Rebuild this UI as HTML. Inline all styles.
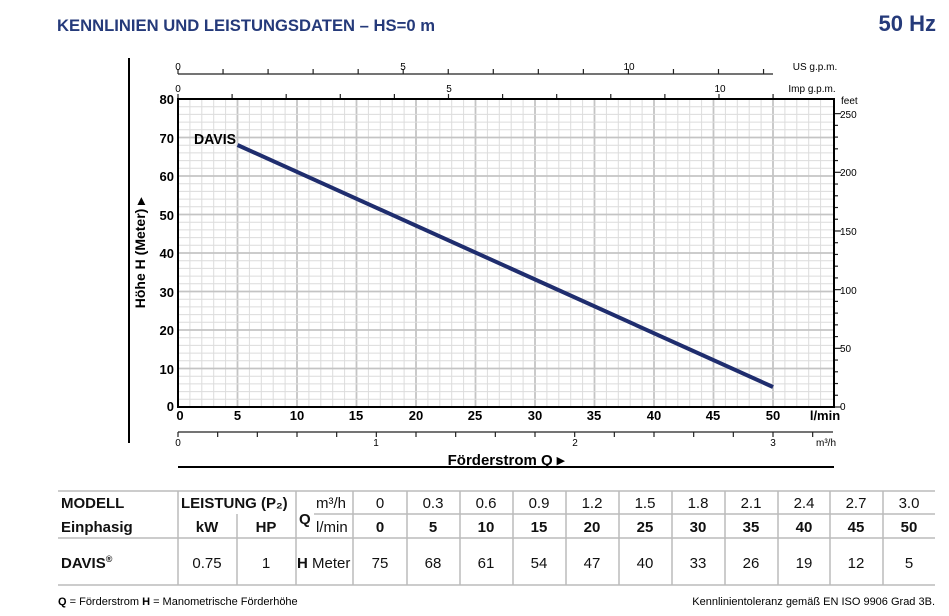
<!DOCTYPE html>
<html><head><meta charset="utf-8"><style>
body{margin:0;background:#fff;width:949px;height:616px;overflow:hidden;font-family:"Liberation Sans",sans-serif}
svg{display:block}
.t{font-family:"Liberation Sans",sans-serif}
.b{font-weight:bold}
</style></head><body>
<svg id="s" width="949" height="616" viewBox="0 0 949 616" xmlns="http://www.w3.org/2000/svg">
<g id="grid"></g>
<g id="ticks" stroke="#222" stroke-width="1.2"></g>
<!-- title -->
<text x="57" y="31" class="t b" font-size="17" fill="#253a7a" textLength="378" lengthAdjust="spacingAndGlyphs">KENNLINIEN UND LEISTUNGSDATEN –   HS=0 m</text>
<text x="936" y="31" class="t b" font-size="22" fill="#253a7a" text-anchor="end">50 Hz</text>
<!-- frame -->
<line x1="129" y1="58" x2="129" y2="443" stroke="#000" stroke-width="2"/>
<rect x="178" y="99" width="656" height="308" fill="none" stroke="#000" stroke-width="2"/>
<line x1="178" y1="74" x2="773" y2="74" stroke="#222" stroke-width="1.2"/>
<line x1="178" y1="432" x2="833" y2="432" stroke="#222" stroke-width="1.2"/>
<line x1="178" y1="467" x2="834" y2="467" stroke="#000" stroke-width="2"/>
<!-- curve -->
<line x1="237.5" y1="145" x2="773" y2="387" stroke="#1f2d6e" stroke-width="4"/>
<text x="194" y="144" class="t b" font-size="15" textLength="42" lengthAdjust="spacingAndGlyphs">DAVIS</text>
<!-- left axis labels -->
<g class="t b" font-size="13" text-anchor="end">
<text x="174" y="104">80</text><text x="174" y="143">70</text><text x="174" y="181">60</text><text x="174" y="220">50</text><text x="174" y="258">40</text><text x="174" y="297">30</text><text x="174" y="335">20</text><text x="174" y="374">10</text><text x="174" y="411">0</text>
</g>
<text transform="translate(145,253) rotate(-90)" class="t b" font-size="14" text-anchor="middle">Höhe  H  (Meter) ▸</text>
<!-- bottom l/min labels -->
<g class="t b" font-size="13" text-anchor="middle">
<text x="180" y="420">0</text><text x="237.5" y="420">5</text><text x="297" y="420">10</text><text x="356" y="420">15</text><text x="416" y="420">20</text><text x="475" y="420">25</text><text x="535" y="420">30</text><text x="594" y="420">35</text><text x="654" y="420">40</text><text x="713" y="420">45</text><text x="773" y="420">50</text>
<text x="825" y="420">l/min</text>
</g>
<!-- m3/h labels -->
<g class="t" font-size="10" text-anchor="middle">
<text x="178" y="446">0</text><text x="376" y="446">1</text><text x="575" y="446">2</text><text x="773" y="446">3</text>
<text x="826" y="446">m³/h</text>
</g>
<text x="506" y="465" class="t b" font-size="15" text-anchor="middle">Förderstrom  Q  ▸</text>
<!-- top labels -->
<g class="t" font-size="10" text-anchor="middle">
<text x="178" y="70">0</text><text x="403" y="70">5</text><text x="629" y="70">10</text>
<text x="815" y="70">US g.p.m.</text>
<text x="178" y="92">0</text><text x="449" y="92">5</text><text x="720" y="92">10</text>
<text x="812" y="92">Imp g.p.m.</text>
</g>
<!-- feet labels -->
<g class="t" font-size="10">
<text x="841" y="104">feet</text>
<text x="840" y="118">250</text><text x="840" y="176">200</text><text x="840" y="235">150</text><text x="840" y="294">100</text><text x="840" y="352">50</text><text x="840" y="410">0</text>
</g>
<!-- table -->
<g stroke="#bbb" stroke-width="1.5">
<line x1="58" y1="491" x2="935" y2="491"/>
<line x1="58" y1="538" x2="935" y2="538"/>
<line x1="58" y1="585" x2="935" y2="585"/>
<line x1="314" y1="514" x2="935" y2="514"/>
<line x1="178" y1="491" x2="178" y2="585"/>
<line x1="237" y1="514" x2="237" y2="585"/>
<line x1="296" y1="491" x2="296" y2="585"/>
<line x1="353" y1="491" x2="353" y2="585"/>
<line x1="407" y1="491" x2="407" y2="585"/>
<line x1="460" y1="491" x2="460" y2="585"/>
<line x1="513" y1="491" x2="513" y2="585"/>
<line x1="566" y1="491" x2="566" y2="585"/>
<line x1="619" y1="491" x2="619" y2="585"/>
<line x1="672" y1="491" x2="672" y2="585"/>
<line x1="725" y1="491" x2="725" y2="585"/>
<line x1="778" y1="491" x2="778" y2="585"/>
<line x1="830" y1="491" x2="830" y2="585"/>
<line x1="883" y1="491" x2="883" y2="585"/>
</g>
<g class="t" font-size="15" fill="#111">
<text x="61" y="508" class="b">MODELL</text>
<text x="61" y="532" class="b">Einphasig</text>
<text x="61" y="568" class="b">DAVIS<tspan font-size="9" dy="-6">®</tspan></text>
<text x="181" y="508" class="b">LEISTUNG (P₂)</text>
<text x="207" y="532" class="b" text-anchor="middle">kW</text>
<text x="266" y="532" class="b" text-anchor="middle">HP</text>
<text x="207" y="568" text-anchor="middle">0.75</text>
<text x="266" y="568" text-anchor="middle">1</text>
<text x="299" y="524" class="b">Q</text>
<text x="316" y="508">m³/h</text>
<text x="316" y="532">l/min</text>
<text x="297" y="568"><tspan class="b">H</tspan> Meter</text>
</g>
<g class="t" font-size="15" fill="#111" text-anchor="middle">
<text x="380" y="508">0</text><text x="433" y="508">0.3</text><text x="486" y="508">0.6</text><text x="539" y="508">0.9</text><text x="592" y="508">1.2</text><text x="645" y="508">1.5</text><text x="698" y="508">1.8</text><text x="751" y="508">2.1</text><text x="804" y="508">2.4</text><text x="856" y="508">2.7</text><text x="909" y="508">3.0</text>
<g class="b"><text x="380" y="532">0</text><text x="433" y="532">5</text><text x="486" y="532">10</text><text x="539" y="532">15</text><text x="592" y="532">20</text><text x="645" y="532">25</text><text x="698" y="532">30</text><text x="751" y="532">35</text><text x="804" y="532">40</text><text x="856" y="532">45</text><text x="909" y="532">50</text></g>
<text x="380" y="568">75</text><text x="433" y="568">68</text><text x="486" y="568">61</text><text x="539" y="568">54</text><text x="592" y="568">47</text><text x="645" y="568">40</text><text x="698" y="568">33</text><text x="751" y="568">26</text><text x="804" y="568">19</text><text x="856" y="568">12</text><text x="909" y="568">5</text>
</g>
<text x="58" y="605" class="t" font-size="11"><tspan class="b">Q</tspan> = Förderstrom   <tspan class="b">H</tspan> = Manometrische Förderhöhe</text>
<text x="935" y="605" class="t" font-size="11" text-anchor="end">Kennlinientoleranz gemäß EN ISO 9906 Grad 3B.</text>
</svg>
<script>
var NS="http://www.w3.org/2000/svg";
function L(g,x1,y1,x2,y2,c,w){var l=document.createElementNS(NS,"line");l.setAttribute("x1",x1);l.setAttribute("y1",y1);l.setAttribute("x2",x2);l.setAttribute("y2",y2);if(c)l.setAttribute("stroke",c);if(w)l.setAttribute("stroke-width",w);document.getElementById(g).appendChild(l);}
var px=11.9,x0=178,y0=407,py=3.85;
for(var i=1;i<55;i++){var x=x0+i*px;L("grid",x,99,x,407,i%5==0?"#c4c4c4":"#dcdcdc",i%5==0?1.8:1);}
for(var j=1;j<40;j++){var y=y0-j*2*py;L("grid",178,y,834,y,j%5==0?"#c4c4c4":"#dcdcdc",j%5==0?1.8:1);}
// US gpm ticks
for(var k=0;k<=13;k++){var x=x0+k*3.785*px;if(x>775)break;L("ticks",x,74,x,69);}
// Imp gpm ticks
for(var k=0;k<=11;k++){var x=x0+k*4.546*px;if(x>834)break;L("ticks",x,99,x,94);}
// m3/h ticks
for(var k=0;k<=16;k++){var x=x0+k*0.2*1000/60*px;if(x>834)break;L("ticks",x,432,x,437);}
// feet ticks
for(var f=0;f<=250;f+=10){var y=y0-f*0.3048*py;L("ticks",834,y,f%50==0?841:838,y);}
</script>
</body></html>
